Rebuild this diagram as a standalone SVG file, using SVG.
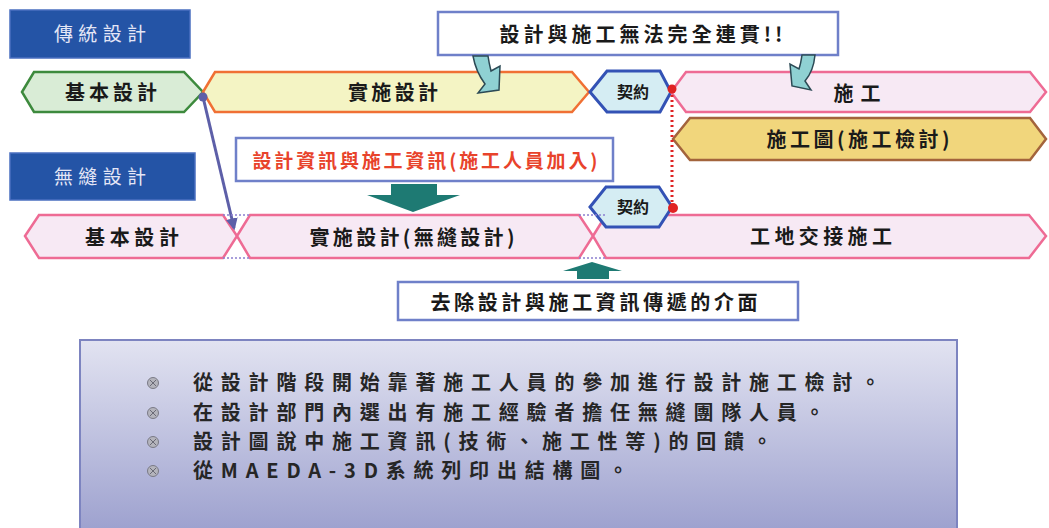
<svg xmlns="http://www.w3.org/2000/svg" width="1049" height="528" viewBox="0 0 1049 528">
<defs>
<linearGradient id="bg" x1="0" y1="0" x2="0" y2="1">
<stop offset="0" stop-color="#e2e3f1"/>
<stop offset="1" stop-color="#9a9ecd"/>
</linearGradient>
<marker id="ah" viewBox="0 0 10 10" refX="8" refY="5" markerWidth="4" markerHeight="4" orient="auto">
<path d="M0,0 L10,5 L0,10 Z" fill="#5d5fa8"/>
</marker>
</defs>
<style>
text{font-family:"Noto Sans CJK TC","Noto Sans CJK SC",sans-serif;}
.hdr{fill:#2454a6;stroke:#4a6fc0;stroke-width:1.5}
.hdrt{fill:#e4e6f6;font-size:19px;text-anchor:middle}
.lbl{fill:#1a1a1a;font-size:20px;font-weight:bold;text-anchor:middle}
.pink{fill:#f7e9f4;stroke:#ee6b94;stroke-width:2.5}
.ctr{fill:#d5edf3;stroke:#3352b5;stroke-width:3}
.ctrt{fill:#1a1a1a;font-size:16px;font-weight:bold;text-anchor:middle}
.box{fill:#ffffff;stroke:#6f80c9;stroke-width:2.5}
.teal{fill:#1e7a73}
.cyan{fill:#8fd1d3;stroke:#2c4a55;stroke-width:1.5}
.blt{fill:#b4b4bc;stroke:#7a7a86;stroke-width:1}
.bx{stroke:#6a6a76;stroke-width:1}
.bt{fill:#262626;font-size:20px;font-weight:bold;letter-spacing:7.8px}
.dash{stroke:#8c7fd0;stroke-width:1.5;stroke-dasharray:2 2;fill:none}
</style>

<g id="hdr-traditional">
<rect class="hdr" x="10" y="10" width="180" height="48"/>
<text class="hdrt" x="100" y="41" textLength="92" lengthAdjust="spacing">傳統設計</text>
</g>
<g id="hdr-seamless">
<rect class="hdr" x="10" y="153" width="185" height="47"/>
<text class="hdrt" x="100" y="184" textLength="92" lengthAdjust="spacing">無縫設計</text>
</g>

<g id="callout-top">
<rect class="box" x="438" y="12" width="400" height="43"/>
<text class="lbl" x="641" y="42" textLength="283" lengthAdjust="spacing">設計與施工無法完全連貫!!</text>
</g>

<g id="r1-basic">
<polygon points="22,92 34,72 184,72 203,92 184,112 34,112" fill="#d9ecd6" stroke="#3d8a3d" stroke-width="2.5"/>
<text class="lbl" x="111" y="100" textLength="92" lengthAdjust="spacing">基本設計</text>
</g>
<g id="r1-detail">
<polygon points="203,92 215,72 572,72 589,92 572,112 215,112" fill="#f4f4c4" stroke="#f07034" stroke-width="2.5"/>
<text class="lbl" x="393" y="100" textLength="90" lengthAdjust="spacing">實施設計</text>
</g>
<g id="r1-contract">
<polygon class="ctr" points="590,92 607,71 660,71 671,92 660,112 607,112"/>
<text class="ctrt" x="633" y="98">契約</text>
</g>
<g id="r1-construct">
<polygon class="pink" points="671,92 686,72 1030,72 1046,92 1030,112 686,112"/>
<text class="lbl" x="857" y="101" textLength="47" lengthAdjust="spacing">施工</text>
</g>
<g id="r1-shopdwg">
<polygon points="673,139 690,118 1030,118 1046,139 1030,160 690,160" fill="#f1d67c" stroke="#a3643c" stroke-width="2.5"/>
<text class="lbl" x="858" y="147" textLength="183" lengthAdjust="spacing">施工圖(施工檢討)</text>
</g>

<g id="callout-red">
<rect class="box" x="236" y="138" width="377" height="43"/>
<text x="425" y="168" font-size="19" font-weight="bold" fill="#e8432b" text-anchor="middle" textLength="345" lengthAdjust="spacing">設計資訊與施工資訊(施工人員加入)</text>
</g>

<g id="r2-basic">
<polygon class="pink" points="25,236 39,215 223,215 237,236 223,258 39,258"/>
<text class="lbl" x="132" y="245" textLength="94" lengthAdjust="spacing">基本設計</text>
</g>
<g id="r2-detail">
<polygon class="pink" points="237,236 250,215 579,215 593,236 579,258 250,258"/>
<text class="lbl" x="412" y="245" textLength="205" lengthAdjust="spacing">實施設計(無縫設計)</text>
</g>
<g id="r2-site">
<polygon class="pink" points="593,236 606,215 1029,215 1046,236 1029,258 606,258"/>
<text class="lbl" x="821" y="244" textLength="142" lengthAdjust="spacing">工地交接施工</text>
</g>
<g id="r2-contract">
<polygon class="ctr" points="590,207 606,187 659,187 672,207 659,227 606,227"/>
<text class="ctrt" x="633" y="213">契約</text>
</g>

<g id="callout-bottom">
<rect class="box" x="398" y="282" width="400" height="38"/>
<text class="lbl" x="594" y="310" textLength="327" lengthAdjust="spacing">去除設計與施工資訊傳遞的介面</text>
</g>

<g id="connectors">
<path class="cyan" d="M473,56 L488,56 C489,63 490,67 491,71 L500,66 L499,90 L478,93 L485,84 C479,76 475,67 473,56 Z"/>
<path class="cyan" d="M815,55 L802,55 C801,62 800,66 799,69 L790,64 L792,86 L811,90 L805,81 C811,74 814,66 815,55 Z"/>
<line x1="672" y1="90" x2="672" y2="207" stroke="#e02323" stroke-width="3" stroke-dasharray="2 3"/>
<circle cx="672" cy="89" r="4.5" fill="#e02323"/>
<circle cx="673" cy="208" r="5" fill="#e02323"/>
<line x1="203" y1="97" x2="234" y2="228" stroke="#5d5fa8" stroke-width="3" marker-end="url(#ah)"/>
<circle cx="203" cy="97" r="4.5" fill="#5d5fa8"/>
<path class="teal" d="M391,184 L437,184 L437,195 L460,195 L413,212 L367,195 L391,195 Z"/>
<path class="teal" d="M592,262 L622,271 L609,271 L609,279 L577,279 L577,271 L563,271 Z"/>
<line class="dash" x1="223" y1="215" x2="250" y2="215"/>
<line class="dash" x1="223" y1="258" x2="250" y2="258"/>
<line class="dash" x1="579" y1="215" x2="606" y2="215"/>
<line class="dash" x1="579" y1="258" x2="606" y2="258"/>
</g>

<g id="notes">
<rect x="80" y="340" width="877" height="200" fill="url(#bg)" stroke="#7d84c0" stroke-width="2"/>
<g>
<circle class="blt" cx="153" cy="383" r="5.5"/>
<path class="bx" d="M150,380 L156,386 M156,380 L150,386"/>
<circle class="blt" cx="153" cy="413" r="5.5"/>
<path class="bx" d="M150,410 L156,416 M156,410 L150,416"/>
<circle class="blt" cx="153" cy="442" r="5.5"/>
<path class="bx" d="M150,439 L156,445 M156,439 L150,445"/>
<circle class="blt" cx="153" cy="471" r="5.5"/>
<path class="bx" d="M150,468 L156,474 M156,468 L150,474"/>
</g>
<text class="bt" x="193" y="390">從設計階段開始靠著施工人員的參加進行設計施工檢討。</text>
<text class="bt" x="193" y="420">在設計部門內選出有施工經驗者擔任無縫團隊人員。</text>
<text class="bt" x="193" y="449">設計圖說中施工資訊(技術、施工性等)的回饋。</text>
<text class="bt" x="193" y="478">從MAEDA-3D系統列印出結構圖。</text>
</g>
</svg>
